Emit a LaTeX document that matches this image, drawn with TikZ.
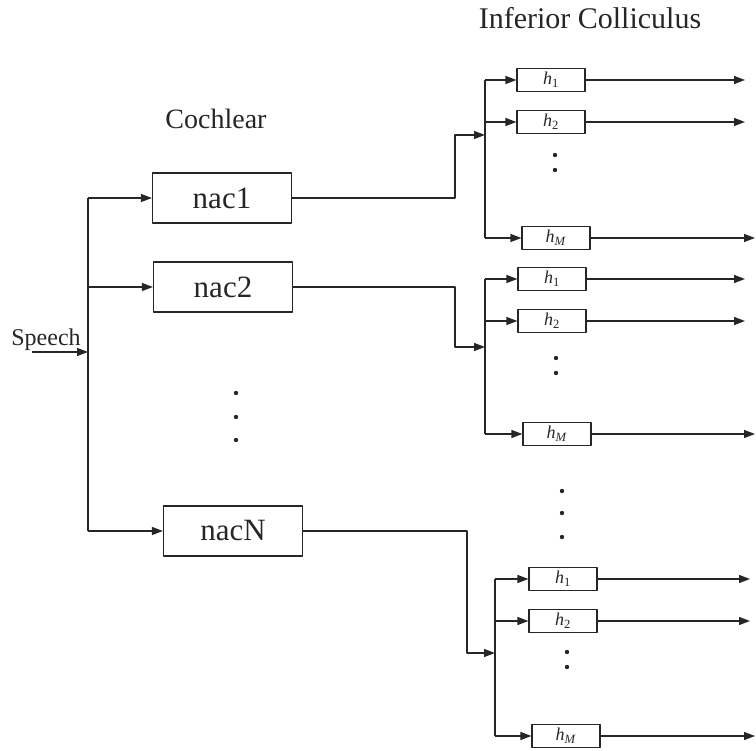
\documentclass[tikz,border=0pt]{standalone}
\usepackage{fontspec}
\setmainfont{Liberation Serif}
\usetikzlibrary{arrows.meta}
\begin{document}
\begin{tikzpicture}[x=1pt,y=-1pt,line join=round,>={Triangle[length=11pt,width=8pt]},
    line width=1.2pt,color=black!85,
    nacbox/.style={draw,rectangle,minimum width=139pt,minimum height=50pt,inner sep=0pt,font=\fontsize{31}{34}\selectfont},
    hbox/.style={draw,rectangle,minimum width=68pt,minimum height=23pt,inner sep=0pt,font=\fontsize{18}{19}\selectfont},
    title/.style={font=\fontsize{28}{30}\selectfont,anchor=base}]
    \useasboundingbox (0,0) rectangle (756,751);
    \def\hone{\textit{h}\textsubscript{1}}
    \def\htwo{\textit{h}\textsubscript{2}}
    \def\hM{\textit{h}\textsubscript{\textit{M}}}
    % titles
    \node[title] (cochlear) at (216,129) {Cochlear};
    \node[title,font=\fontsize{30}{32}\selectfont] (ic) at (590,29) {Inferior Colliculus};
    % input and main bus
    \node[anchor=base,font=\fontsize{24}{26}\selectfont] (speech) at (46,346) {Speech};
    \coordinate (in) at (32,352);
    \coordinate (bus) at (88,352);
    \draw[->] (in) -- (bus);
    \draw (88,198) -- (88,531);
    % cochlear channels
    \node[nacbox] (nac1) at (222,198) {nac1};
    \node[nacbox] (nac2) at (223,287) {nac2};
    \node[nacbox] (nacN) at (233,531) {nacN};
    \draw[->] (88,198) -- (nac1);
    \draw[->] (88,287) -- (nac2);
    \draw[->] (88,531) -- (nacN);
    \foreach \y in {393,417,440} \fill (236,\y) circle (2.2pt);
    % group 1
    \node[hbox] (a1) at (551,80) {\hone};
    \node[hbox] (a2) at (551,122) {\htwo};
    \node[hbox] (aM) at (556,238) {\hM};
    \coordinate (ain) at (485,135);
    \draw[->] (nac1.east) -- (455,198) |- (ain);
    \draw (485,80) -- (485,238);
    \draw[->] (485,80) -- (a1);
    \draw[->] (485,122) -- (a2);
    \draw[->] (485,238) -- (aM);
    \draw[->] (a1) -- (745,80);
    \draw[->] (a2) -- (745,122);
    \draw[->] (aM) -- (755,238);
    \foreach \y in {155,170} \fill (555,\y) circle (2.2pt);
    % group 2
    \node[hbox] (b1) at (552,279) {\hone};
    \node[hbox] (b2) at (552,321) {\htwo};
    \node[hbox] (bM) at (557,434) {\hM};
    \coordinate (bin) at (485,347);
    \draw[->] (nac2.east) -- (455,287) |- (bin);
    \draw (485,279) -- (485,434);
    \draw[->] (485,279) -- (b1);
    \draw[->] (485,321) -- (b2);
    \draw[->] (485,434) -- (bM);
    \draw[->] (b1) -- (745,279);
    \draw[->] (b2) -- (745,321);
    \draw[->] (bM) -- (755,434);
    \foreach \y in {358,373} \fill (556,\y) circle (2.2pt);
    \foreach \y in {491,513,537} \fill (562,\y) circle (2.2pt);
    % group N
    \node[hbox] (c1) at (563,579) {\hone};
    \node[hbox] (c2) at (563,621) {\htwo};
    \node[hbox] (cM) at (566,736) {\hM};
    \coordinate (cin) at (495,653);
    \draw[->] (nacN.east) -- (467,531) |- (cin);
    \draw (495,579) -- (495,736);
    \draw[->] (495,579) -- (c1);
    \draw[->] (495,621) -- (c2);
    \draw[->] (495,736) -- (cM);
    \draw[->] (c1) -- (750,579);
    \draw[->] (c2) -- (750,621);
    \draw[->] (cM) -- (755,736);
    \foreach \y in {652,667} \fill (567,\y) circle (2.2pt);
\end{tikzpicture}
\end{document}
